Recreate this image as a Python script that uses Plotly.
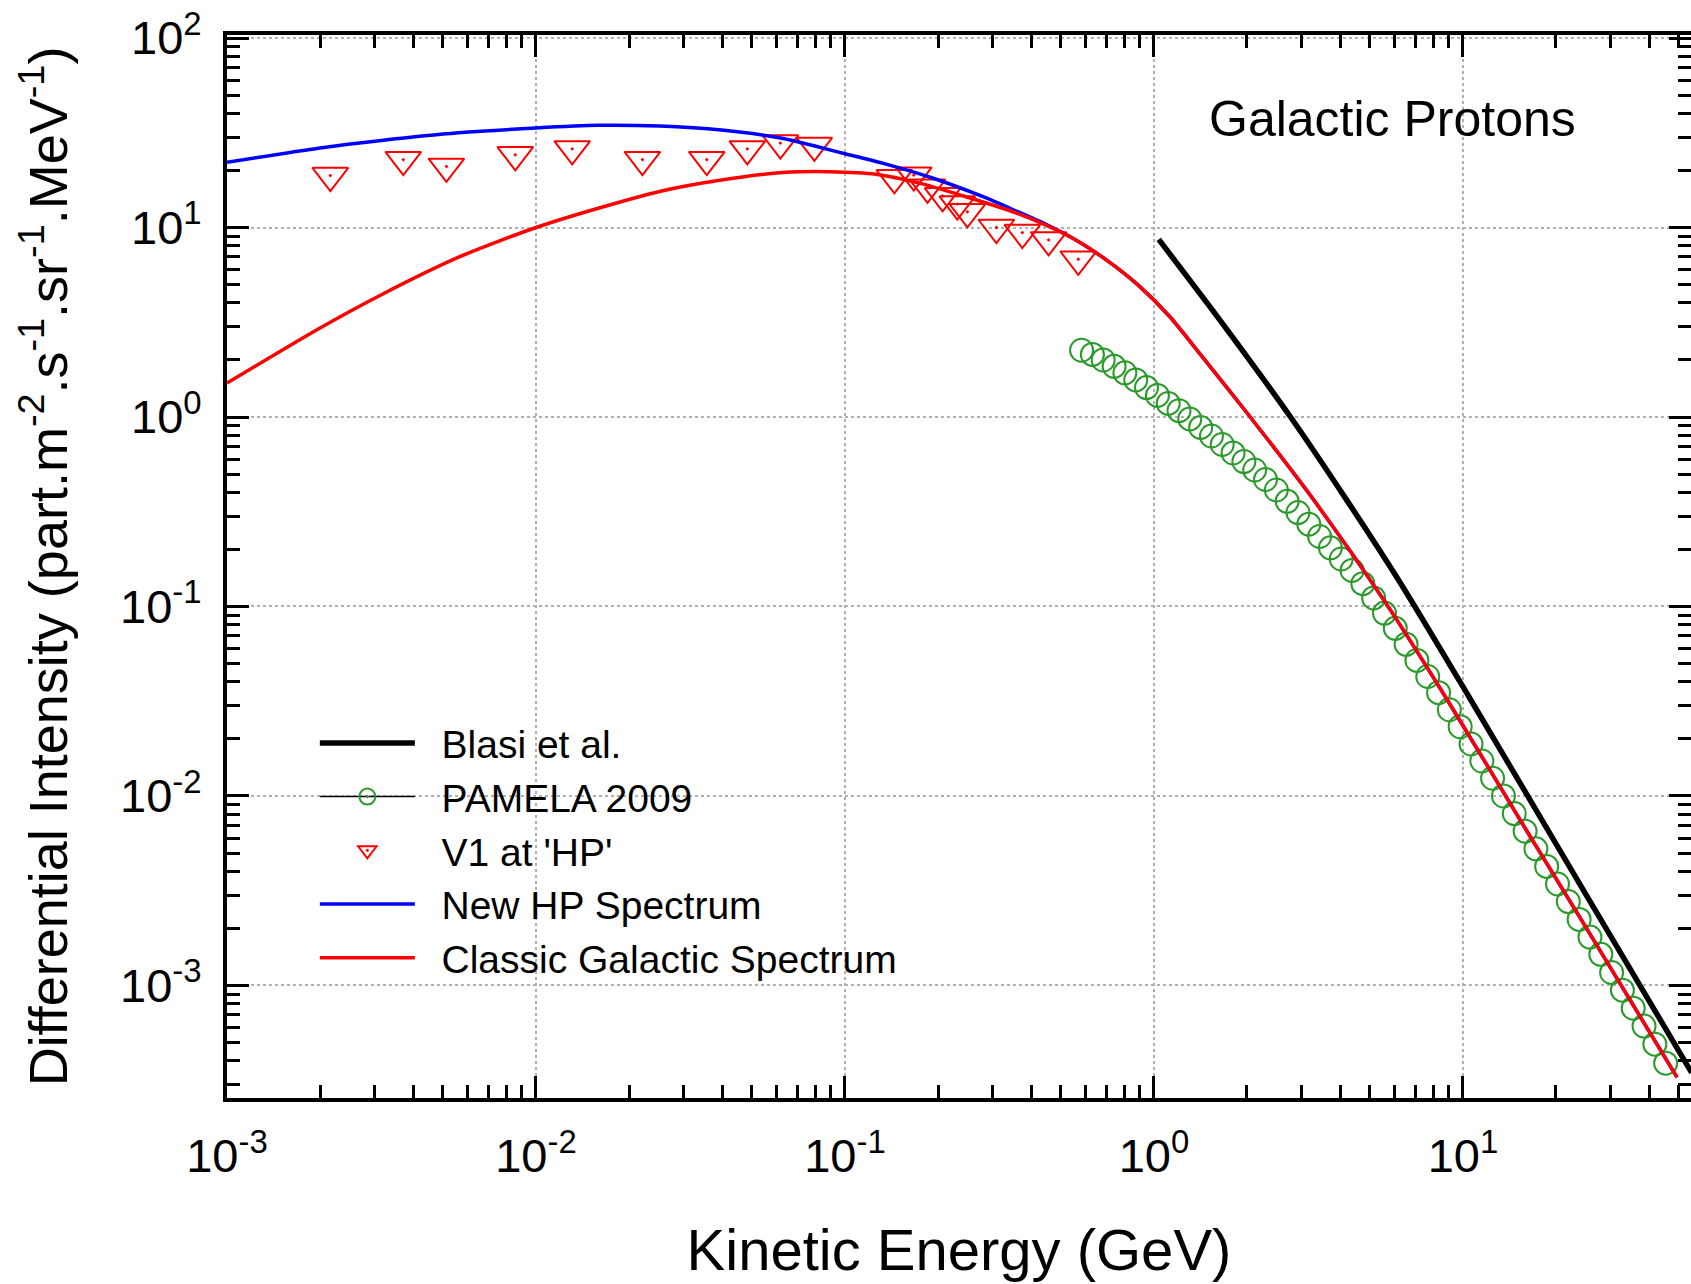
import plotly.graph_objects as go

# ---------------- data ----------------
# Blasi et al. (GeV, part m^-2 s^-1 sr^-1 MeV^-1)
blasi_E = [1.036, 1.66, 2.767, 4.17, 6.28, 10.57, 25.1, 54.95]
blasi_I = [8.65, 3.14, 1.0, 0.372, 0.1327, 0.0324, 0.00299, 0.000347]

# PAMELA 2009
pamela_E = [0.583, 0.632, 0.685, 0.743, 0.805, 0.873, 0.946, 1.026, 1.112, 1.205,
            1.306, 1.416, 1.535, 1.663, 1.803, 1.954, 2.118, 2.296, 2.489, 2.698,
            2.924, 3.170, 3.436, 3.724, 4.036, 4.375, 4.742, 5.140, 5.572, 6.039,
            6.546, 7.096, 7.691, 8.337, 9.036, 9.795, 10.62, 11.51, 12.47, 13.52,
            14.66, 15.89, 17.22, 18.66, 20.23, 21.93, 23.77, 25.76, 27.93, 30.27,
            32.81, 35.56, 38.55, 41.78, 45.29]
pamela_I = [2.25, 2.14, 2.00, 1.85, 1.71, 1.57, 1.43, 1.30, 1.18, 1.08,
            0.977, 0.881, 0.794, 0.716, 0.646, 0.582, 0.525, 0.468, 0.412, 0.359,
            0.313, 0.272, 0.234, 0.204, 0.178, 0.155, 0.132, 0.111, 0.0923, 0.0767,
            0.0631, 0.0519, 0.0427, 0.0351, 0.0285, 0.0232, 0.0188, 0.0153, 0.0124, 0.0100,
            0.00807, 0.00652, 0.00526, 0.00425, 0.00343, 0.00277, 0.00223, 0.00180, 0.00146, 0.00117,
            0.000944, 0.000759, 0.000610, 0.000490, 0.000389]

# V1 at 'HP'
v1_E = [0.00216, 0.00372, 0.00513, 0.00857, 0.0131, 0.0221, 0.0357, 0.0483, 0.0618, 0.0796,
        0.1445, 0.167, 0.185, 0.207, 0.231, 0.249, 0.309, 0.375, 0.456, 0.569]
v1_I = [18.8, 22.8, 21.0, 24.2, 26.0, 22.8, 22.8, 26.0, 27.9, 27.1,
        18.3, 18.9, 16.3, 14.7, 13.3, 12.1, 10.0, 9.4, 8.6, 6.8]

# New HP Spectrum
hp_E = [0.001, 0.002, 0.00316, 0.00562, 0.01, 0.0158, 0.0251, 0.0398, 0.0631, 0.1,
        0.133, 0.193, 0.281, 0.355, 0.447, 0.562, 0.708, 0.891, 1.122, 1.413,
        2.004, 3.162, 5.546, 8.872, 15.85, 25.12, 49.32]
hp_I = [22.1, 26.3, 28.8, 31.6, 33.5, 34.6, 34.3, 32.7, 29.5, 24.5,
        21.8, 18.2, 14.5, 12.3, 10.4, 8.55, 6.67, 4.95, 3.40, 2.14,
        1.047, 0.398, 0.108, 0.0324, 0.00681, 0.0020, 0.000327]

# Classic Galactic Spectrum
cl_E = [0.001, 0.002, 0.00316, 0.00562, 0.01, 0.0158, 0.0251, 0.0398, 0.0631, 0.0891,
        0.126, 0.178, 0.251, 0.355, 0.447, 0.562, 0.708, 0.891, 1.122, 1.413,
        2.004, 3.162, 5.546, 8.872, 15.85, 25.12, 49.32]
cl_I = [1.51, 2.95, 4.42, 6.97, 10.0, 12.6, 15.5, 17.8, 19.5, 19.7,
        19.1, 17.0, 14.4, 12.0, 10.3, 8.55, 6.67, 4.95, 3.40, 2.14,
        1.047, 0.398, 0.108, 0.0324, 0.00681, 0.0020, 0.000327]

x_tick_vals = [1e-3, 1e-2, 1e-1, 1, 10]
x_tick_text = ["10<sup>-3</sup>", "10<sup>-2</sup>", "10<sup>-1</sup>", "10<sup>0</sup>", "10<sup>1</sup>"]
y_tick_vals = [1e-3, 1e-2, 1e-1, 1, 10, 100]
y_tick_text = ["10<sup>-3</sup>", "10<sup>-2</sup>", "10<sup>-1</sup>", "10<sup>0</sup>",
               "10<sup>1</sup>", "10<sup>2</sup>"]

FONT = "Liberation Sans, Arial, sans-serif"
RED = "#ff0000"
BLUE = "#0000ff"
GREEN = "#2a9a2a"
GAP = "\u00a0\u00a0"

fig = go.Figure()

fig.add_trace(go.Scatter(
    x=v1_E, y=v1_I, mode="markers", name=GAP + "V1 at 'HP'", legendrank=3,
    marker=dict(symbol="triangle-down-open-dot", size=31, color=RED, line=dict(width=2, color=RED))))

fig.add_trace(go.Scatter(
    x=pamela_E, y=pamela_I, mode="markers", name="PAMELA 2009", showlegend=False,
    marker=dict(symbol="circle-open", size=23, color=GREEN, line=dict(width=2, color=GREEN))))
fig.add_trace(go.Scatter(
    x=[None], y=[None], mode="lines+markers", name=GAP + "PAMELA 2009", legendrank=2,
    line=dict(color="black", width=1.5),
    marker=dict(symbol="circle-open-dot", size=18, color=GREEN, line=dict(width=2, color=GREEN))))

fig.add_trace(go.Scatter(
    x=hp_E, y=hp_I, mode="lines", name=GAP + "New HP Spectrum", legendrank=4,
    line=dict(color=BLUE, width=3.5, shape="spline", smoothing=0.7)))
fig.add_trace(go.Scatter(
    x=cl_E, y=cl_I, mode="lines", name=GAP + "Classic Galactic Spectrum", legendrank=5,
    line=dict(color=RED, width=3.5, shape="spline", smoothing=0.7)))
fig.add_trace(go.Scatter(
    x=blasi_E, y=blasi_I, mode="lines", name=GAP + "Blasi et al.", legendrank=1,
    line=dict(color="black", width=5.5, shape="spline", smoothing=0.8)))

x_minor = [m * 10 ** d for d in range(-3, 2) for m in range(2, 10) if m * 10 ** d < 56]
y_minor = [m * 10 ** d for d in range(-4, 2) for m in range(2, 10) if 2.5e-4 < m * 10 ** d < 100]

axis_common = dict(
    type="log", showline=True, linewidth=4, linecolor="black", mirror="allticks",
    ticks="inside", ticklen=22, tickwidth=3, tickcolor="black",
    showgrid=True, gridcolor="#b0b0b0", griddash="dot", gridwidth=2, zeroline=False,
    tickfont=dict(family=FONT, size=47, color="black"), tickmode="array",
)

fig.update_xaxes(
    **axis_common, range=[-3, 1.738], tickvals=x_tick_vals, ticktext=x_tick_text,
    ticklabelstandoff=14,
    minor=dict(tickvals=x_minor, ticks="inside", ticklen=13, tickwidth=2.5, tickcolor="black", showgrid=False),
    title=dict(text="Kinetic Energy (GeV)", font=dict(family=FONT, size=58, color="black"), standoff=49),
)
fig.update_yaxes(
    **axis_common, range=[-3.594, 2.016], tickvals=y_tick_vals, ticktext=y_tick_text,
    ticklabelstandoff=12,
    minor=dict(tickvals=y_minor, ticks="inside", ticklen=13, tickwidth=2.5, tickcolor="black", showgrid=False),
    title=dict(text="Differential Intensity (part.m<sup>-2</sup>.s<sup>-1</sup>.sr<sup>-1</sup>.MeV<sup>-1</sup>)",
               font=dict(family=FONT, size=54, color="black"), standoff=36),
)

fig.add_annotation(
    text="Galactic Protons", xref="paper", yref="paper", x=0.796, y=0.921,
    xanchor="center", yanchor="middle", showarrow=False,
    font=dict(family=FONT, size=50, color="black"))

fig.update_layout(
    width=1691, height=1284,
    margin=dict(l=227, r=0, t=35, b=186, autoexpand=False),
    paper_bgcolor="white", plot_bgcolor="white",
    font=dict(family=FONT, color="black"),
    legend=dict(x=0.06, y=0.364, xanchor="left", yanchor="top", itemwidth=95,
                bgcolor="rgba(0,0,0,0)", font=dict(family=FONT, size=39, color="black"),
                tracegroupgap=0),
    showlegend=True,
)

fig.write_html("out.html")
